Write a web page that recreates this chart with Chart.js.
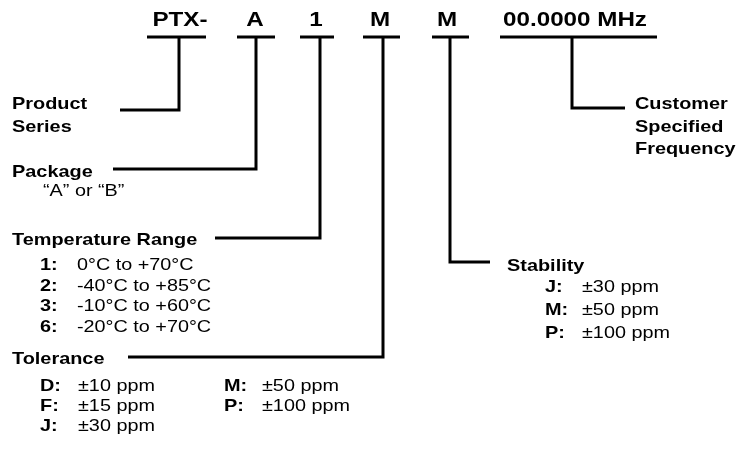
<!DOCTYPE html>
<html>
<head>
<meta charset="utf-8">
<script src="https://cdn.jsdelivr.net/npm/chart.js@4.4.1/dist/chart.umd.min.js"></script>
<style>
  html, body { margin: 0; padding: 0; background: #ffffff; }
  #wrap { width: 750px; height: 466px; }
</style>
</head>
<body>
<div id="wrap"><canvas id="c" width="750" height="466"></canvas></div>
<script>
// ---------- DATA ----------
const partCodes = ["PTX-", "A", "1", "M", "M", "00.0000 MHz"];
const productLabel = ["Product", "Series"];
const packageLabel = "Package";
const packageOptions = "\u201CA\u201D or \u201CB\u201D";
const tempLabel = "Temperature Range";
const tempCodes = ["1:", "2:", "3:", "6:"];
const tempRanges = ["0\u00B0C to +70\u00B0C", "-40\u00B0C to +85\u00B0C", "-10\u00B0C to +60\u00B0C", "-20\u00B0C to +70\u00B0C"];
const tolLabel = "Tolerance";
const tolCodes = ["D:", "F:", "J:", "M:", "P:"];
const tolValues = ["\u00B110 ppm", "\u00B115 ppm", "\u00B130 ppm", "\u00B150 ppm", "\u00B1100 ppm"];
const stabLabel = "Stability";
const stabCodes = ["J:", "M:", "P:"];
const stabValues = ["\u00B130 ppm", "\u00B150 ppm", "\u00B1100 ppm"];
const freqLabel = ["Customer", "Specified", "Frequency"];

// ---------- LAYOUT (diagram space: 0..750 x 0..466) ----------
const codeCenters = [180, 255, 316, 380, 447, 575];
const codeBaseline = 26;
const underlineY = 37;
const underlines = [[147, 206], [237, 275], [300, 334], [363, 400], [432, 469], [500, 657]];
// each connector: stem x, elbow y, end x
const connectors = [
  [179, 110, 120],
  [256, 169, 113],
  [320, 238, 215],
  [383, 357, 128],
  [450, 262, 490],
  [572, 108, 625]
];

const BOLD = "bold 17px 'Liberation Sans', Arial, sans-serif";
const BIG = "bold 20px 'Liberation Sans', Arial, sans-serif";
const NORM = "16.5px 'Liberation Sans', Arial, sans-serif";
const SX = 1.17;
const SX_BIG = 1.21;
const SX_NORM = 1.2;

function seg(points) {
  return {
    data: points.map(p => ({ x: p[0], y: p[1] })),
    showLine: true,
    borderColor: "#000000",
    borderWidth: 3,
    pointRadius: 0,
    borderCapStyle: "butt",
    borderJoinStyle: "miter",
    tension: 0,
    fill: false
  };
}

const datasets = [];
underlines.forEach(u => datasets.push(seg([[u[0], underlineY], [u[1], underlineY]])));
connectors.forEach(c => datasets.push(seg([[c[0], underlineY], [c[0], c[1]], [c[2], c[1]]])));

// text items: [text, x, baselineY, font, align, hscale]
const texts = [];
partCodes.forEach((t, i) => texts.push([t, codeCenters[i], codeBaseline, BIG, "center", SX_BIG]));
texts.push([productLabel[0], 12, 109, BOLD, "left", SX]);
texts.push([productLabel[1], 12, 132, BOLD, "left", SX]);
texts.push([packageLabel, 12, 177, BOLD, "left", SX]);
texts.push([packageOptions, 43, 196, NORM, "left", SX_NORM]);
texts.push([tempLabel, 12, 245, BOLD, "left", SX]);
const tempRows = [270, 290.5, 311, 331.5];
tempCodes.forEach((c, i) => {
  texts.push([c, 40, tempRows[i], BOLD, "left", SX]);
  texts.push([tempRanges[i], 77, tempRows[i], NORM, "left", SX_NORM]);
});
texts.push([tolLabel, 12, 364, BOLD, "left", SX]);
const tolRows = [391, 411, 431, 391, 411];
const tolCodeX = [40, 40, 40, 224, 224];
const tolValX = [78, 78, 78, 262, 262];
tolCodes.forEach((c, i) => {
  texts.push([c, tolCodeX[i], tolRows[i], BOLD, "left", SX]);
  texts.push([tolValues[i], tolValX[i], tolRows[i], NORM, "left", SX_NORM]);
});
texts.push([stabLabel, 507, 271, BOLD, "left", SX]);
const stabRows = [292, 315, 338];
stabCodes.forEach((c, i) => {
  texts.push([c, 545, stabRows[i], BOLD, "left", SX]);
  texts.push([stabValues[i], 582, stabRows[i], NORM, "left", SX_NORM]);
});
freqLabel.forEach((t, i) => texts.push([t, 635, [109, 132, 154][i], BOLD, "left", SX]));

const textPlugin = {
  id: "diagramText",
  afterDatasetsDraw(chart) {
    const ctx = chart.ctx;
    const xs = chart.scales.x, ys = chart.scales.y;
    ctx.save();
    ctx.fillStyle = "#000000";
    ctx.textBaseline = "alphabetic";
    texts.forEach(([t, x, y, font, align, hs]) => {
      ctx.save();
      ctx.font = font;
      ctx.translate(xs.getPixelForValue(x), ys.getPixelForValue(y));
      ctx.scale(hs, 1);
      ctx.textAlign = align;
      ctx.fillText(t, 0, 0);
      ctx.restore();
    });
    ctx.restore();
  }
};

new Chart(document.getElementById("c"), {
  type: "scatter",
  data: { datasets },
  options: {
    responsive: false,
    animation: false,
    events: [],
    layout: { padding: 0 },
    plugins: { legend: { display: false }, tooltip: { enabled: false } },
    scales: {
      x: { type: "linear", min: 0, max: 750, display: false },
      y: { type: "linear", min: 0, max: 466, reverse: true, display: false }
    }
  },
  plugins: [textPlugin]
});
</script>
</body>
</html>
